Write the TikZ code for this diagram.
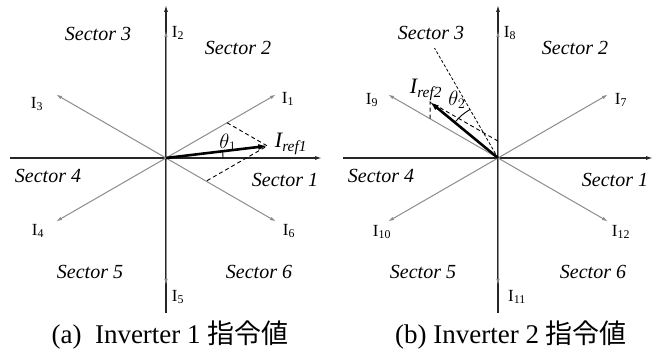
\documentclass[tikz,border=0pt]{standalone}
\usepackage{fontspec}
\setmainfont{Liberation Serif}
\newfontfamily\cjk{Noto Sans CJK JP}
\usetikzlibrary{arrows.meta,calc}
\tikzset{
  axisline/.style={-{Latex[length=7pt,width=4pt]}, line width=1.2pt, draw=black!85},
  ivec/.style    ={-{Latex[length=6pt,width=3.5pt]}, line width=1pt, draw=black!45},
  refvec/.style  ={-{Latex[length=9pt,width=6pt]}, line width=2.6pt, draw=black},
  proj/.style    ={dash pattern=on 4pt off 3pt, line width=0.9pt},
  bound/.style   ={dash pattern=on 3pt off 2pt, line width=0.8pt},
  angarc/.style  ={line width=0.9pt},
  seclab/.style  ={font=\fontsize{20}{24}\selectfont\itshape, inner sep=0pt},
  curlab/.style  ={font=\fontsize{17}{20}\selectfont, inner sep=0pt},
  anglab/.style  ={font=\fontsize{21}{24}\selectfont, inner sep=0pt},
  reflab/.style  ={font=\fontsize{22}{26}\selectfont\itshape, inner sep=0pt},
  caplab/.style  ={font=\fontsize{27}{32}\selectfont, inner sep=0pt}
}

\begin{document}
\begin{tikzpicture}[x=1pt,y=1pt]
  \useasboundingbox (0,0) rectangle (667,351);
  % (a) inverter 1
  \coordinate (o1)  at (166,193);
  \coordinate (xl1) at (10,193);
  \coordinate (xr1) at (322,193);
  \coordinate (yb1) at (166,38);
  \coordinate (yt1) at (166,346);
  \draw[axisline] (xl1) -- (xr1);
  \draw[axisline] (yb1) -- (yt1);
  \foreach \k/\ang in {1/30,2/90,3/150,4/210,5/270,6/330}
    \draw[ivec] (o1) -- ($(o1)+(\ang:127)$) coordinate (p\k);
  \node[curlab] (l1) at (288,252) {I\textsubscript{1}};
  \node[curlab] (l2) at (178,318) {I\textsubscript{2}};
  \node[curlab] (l3) at (37,247)  {I\textsubscript{3}};
  \node[curlab] (l4) at (38,120)  {I\textsubscript{4}};
  \node[curlab] (l5) at (178,54)  {I\textsubscript{5}};
  \node[curlab] (l6) at (289,120) {I\textsubscript{6}};
  \node[seclab] (s13) at (98,317)  {Sector 3};
  \node[seclab] (s12) at (238,303) {Sector 2};
  \node[seclab] (s14) at (48,175)  {Sector 4};
  \node[seclab] (s11) at (285,171) {Sector 1};
  \node[seclab] (s15) at (90,79)   {Sector 5};
  \node[seclab] (s16) at (259,79)  {Sector 6};
  \coordinate (r1)  at ($(o1)+(6.8:102)$);
  \coordinate (r1a) at ($(o1)+(30:70.5)$);
  \coordinate (r1b) at ($(o1)+(-30:46.4)$);
  \draw[proj] (r1a) -- (r1) -- (r1b);
  \draw[refvec] (o1) -- (r1);
  \draw[angarc] ($(o1)+(0:57)$) arc[start angle=0, end angle=6.8, radius=57];
  \node[reflab] (ref1) at (291,207) {I\textsubscript{ref1}};
  \node[anglab] (th1) at (228,208) {$\theta_1$};
  \node[caplab] (cap1) at (170,16) {(a)~~Inverter 1 {\cjk 指令値}};

  % (b) inverter 2
  \coordinate (o2)  at (498,193);
  \coordinate (xl2) at (343,193);
  \coordinate (xr2) at (653,193);
  \coordinate (yb2) at (498,38);
  \coordinate (yt2) at (498,346);
  \draw[axisline] (xl2) -- (xr2);
  \draw[axisline] (yb2) -- (yt2);
  \foreach \k/\ang in {7/30,8/90,9/150,10/210,11/270,12/330}
    \draw[ivec] (o2) -- ($(o2)+(\ang:127)$) coordinate (p\k);
  \node[curlab] (l7)  at (621,251) {I\textsubscript{7}};
  \node[curlab] (l8)  at (510,318) {I\textsubscript{8}};
  \node[curlab] (l9)  at (372,251) {I\textsubscript{9}};
  \node[curlab] (l10) at (382,119) {I\textsubscript{10}};
  \node[curlab] (l11) at (517,54)  {I\textsubscript{11}};
  \node[curlab] (l12) at (621,119) {I\textsubscript{12}};
  \node[seclab] (s23) at (431,318) {Sector 3};
  \node[seclab] (s22) at (575,303) {Sector 2};
  \node[seclab] (s24) at (381,175) {Sector 4};
  \node[seclab] (s21) at (615,171) {Sector 1};
  \node[seclab] (s25) at (423,79)  {Sector 5};
  \node[seclab] (s26) at (593,79)  {Sector 6};
  \coordinate (b2)  at ($(o2)+(120:127)$);
  \draw[bound] (o2) -- (b2);
  \coordinate (r2)  at ($(o2)+(140.5:88)$);
  \coordinate (r2a) at ($(o2)+(90:16.9)$);
  \coordinate (r2b) at ($(o2)+(150:78.4)$);
  \draw[proj] (r2a) -- (r2) -- (r2b);
  \draw[refvec] (o2) -- (r2);
  \draw[angarc] ($(o2)+(120:56)$) arc[start angle=120, end angle=140.5, radius=56];
  \node[reflab] (ref2) at (426,261) {I\textsubscript{ref2}};
  \node[anglab] (th2) at (457,251) {$\theta_2$};
  \node[caplab] (cap2) at (511,16) {(b) Inverter 2 {\cjk 指令値}};
\end{tikzpicture}
\end{document}
